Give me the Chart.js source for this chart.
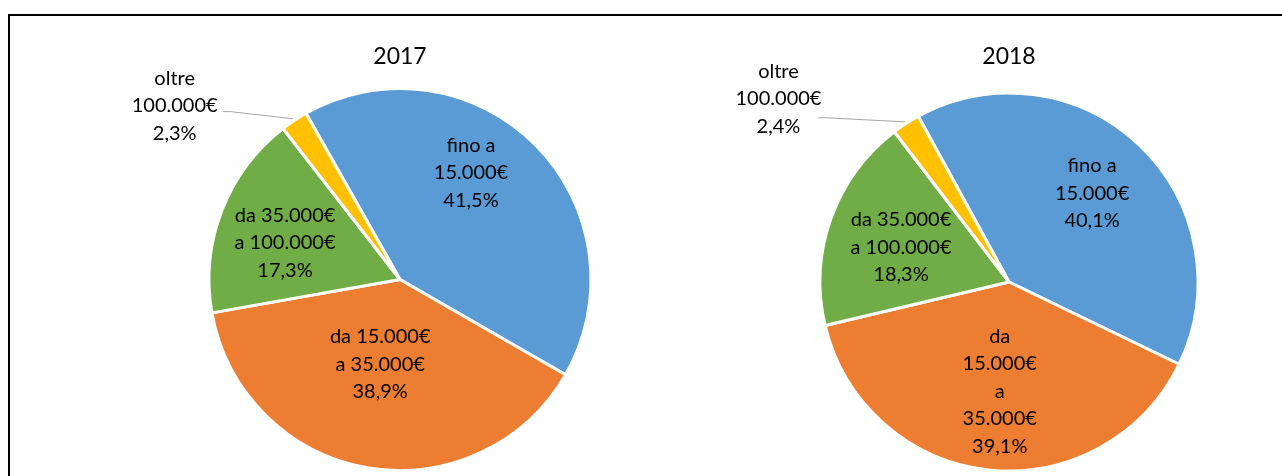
<!DOCTYPE html>
<html>
<head>
<meta charset="utf-8">
<script src="https://cdn.jsdelivr.net/npm/chart.js@4/dist/chart.umd.min.js"></script>
<style>
  html, body { margin: 0; padding: 0; background: #fff; width: 1282px; height: 476px; overflow: hidden; }
  .frame { position: absolute; left: 8px; top: 14px; width: 1400px; height: 600px; border: 2px solid #000; }
  .box { position: absolute; top: 0; height: 476px; }
  #box2017 { left: 0; width: 800px; }
  #box2018 { left: 640px; width: 738px; }
</style>
</head>
<body>
<div class="frame"></div>
<div class="box" id="box2017"><canvas id="chart2017" width="800" height="476"></canvas></div>
<div class="box" id="box2018"><canvas id="chart2018" width="738" height="476"></canvas></div>
<script>
// dati
const categories = ["fino a 15.000€", "da 15.000€ a 35.000€", "da 35.000€ a 100.000€", "oltre 100.000€"];
const values2017 = [41.5, 38.9, 17.3, 2.3];
const values2018 = [40.1, 39.1, 18.3, 2.4];
// testo delle etichette, andato a capo come nel grafico originale
const labelLines2017 = [["fino a", "15.000€"], ["da 15.000€", "a 35.000€"], ["da 35.000€", "a 100.000€"], ["oltre", "100.000€"]];
const labelLines2018 = [["fino a", "15.000€"], ["da", "15.000€", "a", "35.000€"], ["da 35.000€", "a 100.000€"], ["oltre", "100.000€"]];

const sliceColors = ["#5B9BD5", "#ED7D31", "#70AD47", "#FFC000"];
const fontFamily = "Lato, 'Open Sans', sans-serif";

// etichette dentro/fuori le fette (posizione relativa all'angolo medio della fetta)
const sliceLabels = {
  id: "sliceLabels",
  afterDatasetsDraw(chart, args, opts) {
    const ctx = chart.ctx;
    const meta = chart.getDatasetMeta(0);
    const values = chart.data.datasets[0].data;
    const lh = opts.lineHeight;
    ctx.save();
    ctx.font = opts.font;
    ctx.fillStyle = "#000";
    ctx.textAlign = "center";
    ctx.textBaseline = "middle";
    meta.data.forEach(function (arc, i) {
      const p = arc.getProps(["x", "y", "startAngle", "endAngle", "outerRadius"], true);
      const mid = (p.startAngle + p.endAngle) / 2;
      const off = opts.place[i][0] * Math.PI / 180;
      const frac = opts.place[i][1];
      const cx = p.x + Math.cos(mid + off) * p.outerRadius * frac;
      const cy = p.y + Math.sin(mid + off) * p.outerRadius * frac;
      const lines = opts.lines[i].concat([values[i].toFixed(1).replace(".", ",") + "%"]);
      let maxW = 0;
      lines.forEach(function (t, k) {
        ctx.fillText(t, cx, cy + (k - (lines.length - 1) / 2) * lh);
        maxW = Math.max(maxW, ctx.measureText(t).width);
      });
      // linea guida per l'etichetta esterna
      if (frac > 1) {
        const sx = cx + maxW / 2 + opts.leader[0];
        const sy = cy + opts.leader[1];
        const ex = p.x + Math.cos(mid) * (p.outerRadius + 2);
        const ey = p.y + Math.sin(mid) * (p.outerRadius + 2);
        ctx.strokeStyle = "#A6A6A6";
        ctx.lineWidth = 1;
        ctx.beginPath();
        ctx.moveTo(sx, sy);
        ctx.lineTo(sx + 8, sy);
        ctx.lineTo(ex, ey);
        ctx.stroke();
      }
    });
    ctx.restore();
  }
};

function makePie(id, year, values, lines, place, rotation, radius, titleBottom, leader) {
  return new Chart(id, {
    type: "pie",
    data: {
      labels: categories,
      datasets: [{
        data: values,
        backgroundColor: sliceColors,
        borderColor: "#fff",
        borderWidth: 3,
        radius: radius
      }]
    },
    options: {
      responsive: false,
      animation: false,
      rotation: rotation,
      layout: { padding: { top: 0, bottom: 5, left: 0, right: 0 } },
      plugins: {
        legend: { display: false },
        tooltip: { enabled: false },
        title: {
          display: true,
          text: year,
          color: "#000",
          font: { family: fontFamily, size: 23, weight: "normal" },
          padding: { top: 43, bottom: titleBottom }
        },
        sliceLabels: {
          font: "20px " + fontFamily,
          lineHeight: 27.5,
          lines: lines,
          place: place,
          leader: leader
        }
      }
    },
    plugins: [sliceLabels]
  });
}

makePie("chart2017", "2017", values2017, labelLines2017,
  [[-11.6, 0.672], [3.2, 0.457], [-3.3, 0.632], [-18.7, 1.49]], -29.5, 191, 17.4, [5, 6]);
makePie("chart2018", "2018", values2018, labelLines2018,
  [[-0.5, 0.644], [-1.4, 0.58], [-1.9, 0.60], [-18.5, 1.558]], -28.7, 189, 22.4, [-3, 19]);
</script>
</body>
</html>
